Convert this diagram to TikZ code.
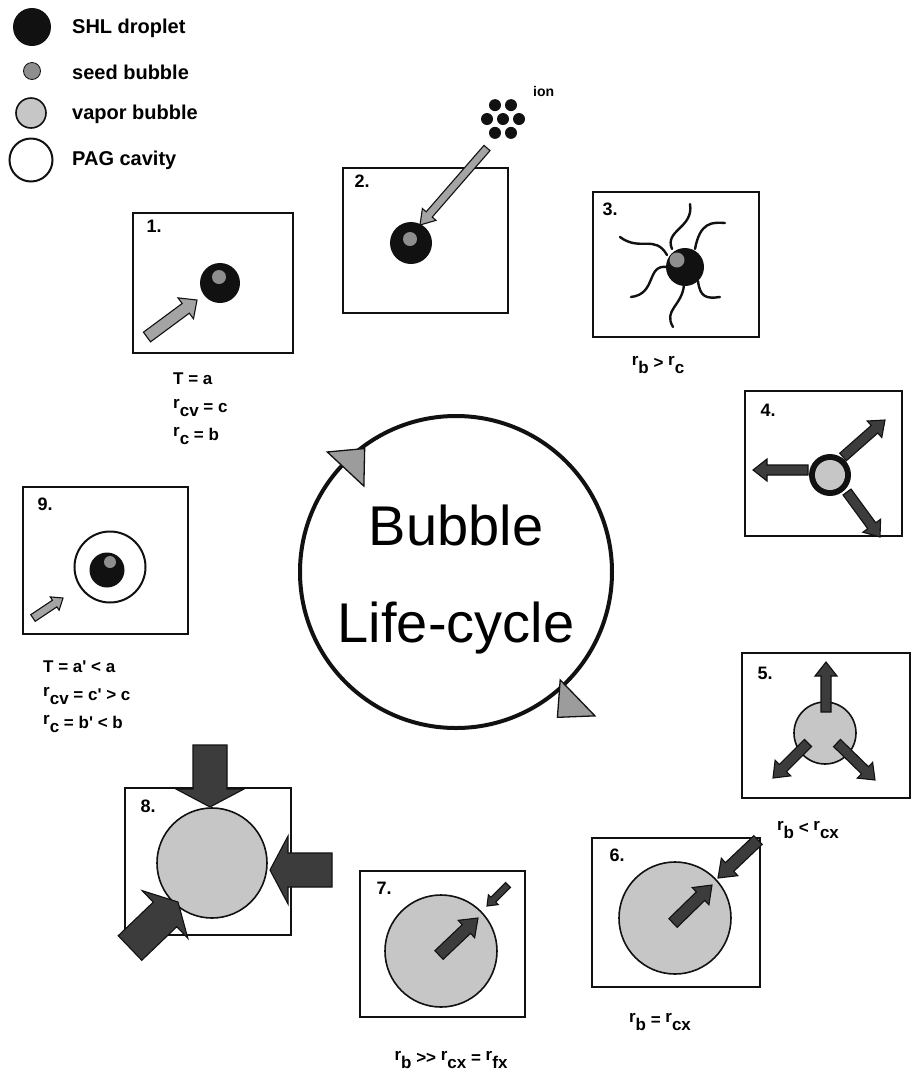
\documentclass[tikz,border=0pt]{standalone}
\usepackage{fontspec}
\setmainfont{Liberation Sans}
\usetikzlibrary{calc,positioning}
\definecolor{ink}{HTML}{111111}
\definecolor{seedgray}{HTML}{8E8E8E}
\definecolor{vaporgray}{HTML}{C6C6C6}
\definecolor{lightfill}{HTML}{A4A4A4}
\definecolor{darkfill}{HTML}{3C3C3C}
\definecolor{headfill}{HTML}{9C9C9C}

% radius with a lowered subscript, r_b etc.
\newcommand\rsub[1]{\raisebox{0.35ex}{r}\raisebox{-0.5ex}{#1}}
\newcommand\prm{\textquotesingle}

% block arrow: [style]{from}{to}{shaft half-width}{head half-width}{head length}
\newcommand\blockarrow[6][]{%
  \coordinate (ba-s) at #2;
  \coordinate (ba-t) at #3;
  \coordinate (ba-h) at ($(ba-t)!#6pt!(ba-s)$);
  \filldraw[#1] ($(ba-s)!#4pt!90:(ba-t)$) -- ($(ba-h)!#4pt!90:(ba-t)$)
    -- ($(ba-h)!#5pt!90:(ba-t)$) -- (ba-t) -- ($(ba-h)!#5pt!-90:(ba-t)$)
    -- ($(ba-h)!#4pt!-90:(ba-t)$) -- ($(ba-s)!#4pt!-90:(ba-t)$) -- cycle;}

\begin{document}
\begin{tikzpicture}[
  x=1pt, y=-1pt,
  font=\bfseries,
  panel/.style args={#1x#2}{draw=ink, line width=1.3pt, minimum width=#1pt,
    minimum height=#2pt, inner sep=0pt},
  tag/.style={font=\fontsize{18}{20}\selectfont\bfseries, anchor=base west, inner sep=0pt},
  note/.style={font=\fontsize{17}{28}\selectfont\bfseries, align=left, inner sep=0pt},
  keytext/.style={font=\fontsize{20}{24}\selectfont\bfseries, anchor=base west, inner sep=0pt},
  droplet/.style={circle, fill=ink, inner sep=0pt, minimum size=#1pt},
  seed/.style={circle, fill=seedgray, inner sep=0pt, minimum size=#1pt},
  vapor/.style={circle, draw=ink, line width=1.6pt, fill=vaporgray, inner sep=0pt,
    minimum size=#1pt},
  cavity/.style={circle, draw=ink, line width=2pt, fill=white, inner sep=0pt,
    minimum size=#1pt},
  ring/.style={circle, draw=ink, line width=4pt, inner sep=0pt, outer sep=0pt,
    minimum size=312pt},
  bigname/.style={font=\fontsize{56}{97}\selectfont\mdseries, align=center},
  lightarrow/.style={draw=ink, fill=lightfill, line width=1.1pt},
  darkarrow/.style={draw=ink, fill=darkfill, line width=1.1pt},
  tentacle/.style={draw=ink, line width=2.4pt, line cap=round},
  cyclehead/.style={draw=ink, fill=headfill, line width=1.3pt}
]
  \fill[white] (0,0) rectangle (916,1085);
  \useasboundingbox (0,0) rectangle (916,1085);

  % Key
  \node[droplet=38] (keydrop) at (32,27) {};
  \node[keytext] (keydroptxt) at (72,33) {SHL droplet};
  \node[seed=17, draw=ink, line width=0.8pt] (keyseed) at (32,71) {};
  \node[keytext] (keyseedtxt) at (72,79) {seed bubble};
  \node[vapor=30] (keyvapor) at (31,113) {};
  \node[keytext] (keyvaportxt) at (72,119) {vapor bubble};
  \node[cavity=43] (keycav) at (31,160) {};
  \node[keytext] (keycavtxt) at (72,165) {PAG cavity};

  % Central cycle
  \node[ring] (cycle) at (456,572) {};
  \node[bigname] (name) at ([yshift=-8pt]cycle.center) {Bubble\\Life-cycle};
  \foreach \t/\d in {137/5, -46/-19} {
    \coordinate (m) at ($(cycle.\t)!\d pt!(cycle.center)$);
    \filldraw[cyclehead] ($(m)!28pt!90:(cycle.center)$) -- ($(m)!25pt!(cycle.center)$)
      -- ($(m)!-25pt!(cycle.center)$) -- cycle;
  }

  % 1. droplet heated
  \node[panel=160x140] (box1) at (213,283) {};
  \node[tag] (tag1) at ([shift={(14,20)}]box1.north west) {1.};
  \node[droplet=40] (drop1) at (220,283) {};
  \node[seed=14] (seed1) at (219,277) {};
  \blockarrow[lightarrow]{(147,337)}{(197,300)}{6}{13}{14}
  \node[note, anchor=base west] (cond1) at (173,440) {T = a\\\rsub{cv} = c\\\rsub{c} = b};

  % 2. ion hit
  \node[panel=165x145] (box2) at (425.5,240.5) {};
  \node[tag] (tag2) at ([shift={(12,20)}]box2.north west) {2.};
  \node[droplet=42] (drop2) at (411,243) {};
  \node[seed=14] (seed2) at (410,239) {};
  \coordinate (ion) at (503,119);
  \fill[ink] (ion) circle (6pt);
  \foreach \a in {0,60,...,300}
    \fill[ink] (ion) ++(\a:16) circle (6pt);
  \node[font=\fontsize{14}{16}\selectfont\bfseries, anchor=base west, inner sep=0pt]
    (iontxt) at (533,96) {ion};
  \blockarrow[lightarrow]{(487,148)}{(420,225)}{4}{9}{14}

  % 3. seed grows
  \node[panel=166x145] (box3) at (676,264.5) {};
  \node[tag] (tag3) at ([shift={(10,24)}]box3.north west) {3.};
  \draw[tentacle] (672,249) .. controls (664,230) and (694,228) .. (690,204);
  \draw[tentacle] (695,249) .. controls (700,222) and (712,222) .. (725,223);
  \draw[tentacle] (667,255) .. controls (655,234) and (640,252) .. (620,237);
  \draw[tentacle] (667,267) .. controls (646,264) and (657,294) .. (631,297);
  \draw[tentacle] (684,285) .. controls (682,306) and (663,310) .. (673,327);
  \draw[tentacle] (698,281) .. controls (700,297) and (706,299) .. (720,297);
  \node[droplet=38] (drop3) at (685,267) {};
  \node[seed=15] (seed3) at (677,260) {};
  \node[note] (cond3) at (658,365) {\rsub{b} > \rsub{c}};

  % 4. droplet vaporizes
  \node[panel=157x145] (box4) at (823.5,463.5) {};
  \node[tag] (tag4) at ([shift={(16,26)}]box4.north west) {4.};
  \node[droplet=42] (drop4) at (830,475) {};
  \node[vapor=30, draw=none] (bub4) at (830,475) {};
  \blockarrow[darkarrow]{(808,470)}{(753,470)}{5}{11}{14}
  \blockarrow[darkarrow]{(843,457)}{(885,420)}{5}{11}{14}
  \blockarrow[darkarrow]{(847,492)}{(880,537)}{5}{11}{14}

  % 5. bubble grows
  \node[panel=168x145] (box5) at (826,725.5) {};
  \node[tag] (tag5) at ([shift={(16,27)}]box5.north west) {5.};
  \node[vapor=62] (bub5) at (825,733) {};
  \blockarrow[darkarrow]{(826,712)}{(826,662)}{5}{11}{14}
  \blockarrow[darkarrow]{(808,743)}{(773,778)}{5}{11}{14}
  \blockarrow[darkarrow]{(837,743)}{(875,780)}{5}{11}{14}
  \node[note] (cond5) at (808,830) {\rsub{b} < \rsub{cx}};

  % 6. critical size
  \node[panel=168x149] (box6) at (676,912.5) {};
  \node[tag] (tag6) at ([shift={(18,24)}]box6.north west) {6.};
  \node[vapor=112] (bub6) at (675,918) {};
  \blockarrow[darkarrow]{(673,923)}{(712,885)}{6}{12}{16}
  \blockarrow[darkarrow]{(758,840)}{(718,878)}{6}{12}{16}
  \node[note] (cond6) at (660,1022) {\rsub{b} = \rsub{cx}};

  % 7. full growth
  \node[panel=165x146] (box7) at (442.5,944) {};
  \node[tag] (tag7) at ([shift={(17,24)}]box7.north west) {7.};
  \node[vapor=112] (bub7) at (441,951) {};
  \blockarrow[darkarrow]{(439,955)}{(478,918)}{6}{12}{16}
  \blockarrow[darkarrow]{(508,885)}{(487,906)}{3.5}{7}{9}
  \node[note] (cond7) at (451,1060) {\rsub{b} >\mbox{}> \rsub{cx} = \rsub{fx}};

  % 8. recompression
  \node[panel=166x147] (box8) at (208,861.5) {};
  \node[tag] (tag8) at ([shift={(16,25)}]box8.north west) {8.};
  \node[vapor=110] (bub8) at (212,863) {};
  \blockarrow[darkarrow]{(210,745)}{(210,807)}{17}{34}{18}
  \blockarrow[darkarrow]{(332,870)}{(270,870)}{17}{34}{18}
  \blockarrow[darkarrow]{(130,948)}{(178,902)}{17}{33}{18}

  % 9. cavity left behind
  \node[panel=165x147] (box9) at (105.5,560.5) {};
  \node[tag] (tag9) at ([shift={(15,24)}]box9.north west) {9.};
  \node[cavity=71] (cav9) at (110,567) {};
  \node[droplet=35] (drop9) at (107,570) {};
  \node[seed=12] (seed9) at (110,562) {};
  \blockarrow[lightarrow]{(33,618)}{(63,598)}{4}{8}{10}
  \node[note, anchor=base west] (cond9) at (43,728)
    {T = a\prm{} < a\\\rsub{cv} = c\prm{} > c\\\rsub{c} = b\prm{} < b};
\end{tikzpicture}
\end{document}
